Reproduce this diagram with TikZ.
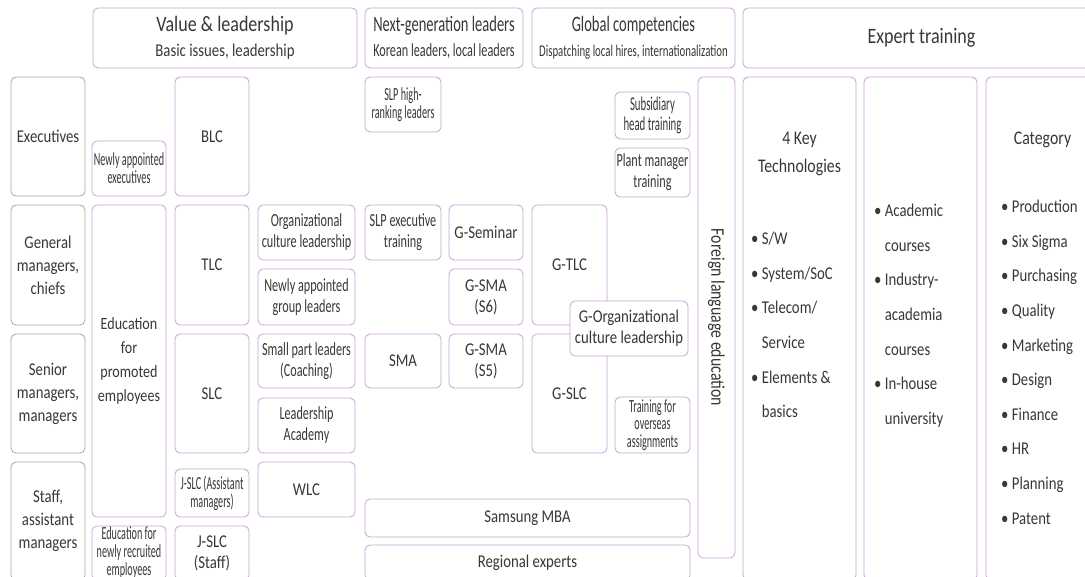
\documentclass[tikz,border=0pt]{standalone}
\usepackage{fontspec}
\setmainfont{Carlito}[FakeStretch=0.82]
\newfontfamily\narrowfam{Carlito}[FakeStretch=0.66]
\newfontfamily\tightfam{Carlito}[FakeStretch=0.55]
\definecolor{hrdpurple}{RGB}{200,162,212}
\definecolor{hrdgray}{RGB}{165,165,165}
\definecolor{hrdtext}{RGB}{55,55,55}
\newcommand\hrbul{\textbullet\ }
\newcommand\hrind{\phantom{\textbullet\ }}
\tikzset{
  grp/.style={draw=hrdpurple, line width=0.8pt, rounded corners=5pt, inner sep=0pt, align=center, text=hrdtext},
  rowlbl/.style={grp, draw=hrdgray, font=\fontsize{18}{23}\selectfont},
  prog/.style={grp, font=\fontsize{18}{21}\selectfont},
  progn/.style={grp, font=\narrowfam\fontsize{18.5}{21}\selectfont},
  progt/.style={grp, font=\tightfam\fontsize{18.5}{18}\selectfont},
  head/.style={grp, font=\fontsize{18}{25}\selectfont},
  listtxt/.style={align=left, inner sep=0pt, text=hrdtext, font=\fontsize{18}{34.6}\selectfont}
}

\begin{document}
\begin{tikzpicture}[x=1pt, y=-1pt]
  \useasboundingbox (0,0) rectangle (1085,577);
  \clip (0,0) rectangle (1085,577);

  % Header boxes
  \node[head, minimum width=264, minimum height=60] (valhd) at (225,38) {{\fontsize{22}{25}\selectfont Value \& leadership}\\Basic issues, leadership};
  \node[head, font=\narrowfam\fontsize{18.5}{25}\selectfont, minimum width=158, minimum height=60] (nexthd) at (444,38) {{\fontsize{22}{25}\selectfont Next-generation leaders}\\Korean leaders, local leaders};
  \node[head, font=\narrowfam\fontsize{16.4}{25}\selectfont, minimum width=203, minimum height=60] (globhd) at (633.5,38) {{\fontsize{22}{25}\selectfont Global competencies}\\Dispatching local hires, internationalization};
  \node[head, font=\fontsize{22}{25}\selectfont, minimum width=357, minimum height=60] (exphd) at (921.5,38) {Expert training};

  % Job levels
  \node[rowlbl, minimum width=74, minimum height=119] (exec) at (48,136.5) {Executives};
  \node[rowlbl, minimum width=74, minimum height=120] (gm) at (48,265) {General\\managers,\\chiefs};
  \node[rowlbl, minimum width=74, minimum height=119] (sm) at (48,393.5) {Senior\\managers,\\managers};
  \node[rowlbl, minimum width=74, minimum height=118] (staff) at (48,521) {Staff,\\assistant\\managers};

  % Value & leadership
  \node[progt, minimum width=74, minimum height=55] (newexec) at (129,168.5) {Newly appointed\\executives};
  \node[prog, font=\fontsize{17.2}{24}\selectfont, minimum width=74, minimum height=312] (edupro) at (129,361) {Education\\for\\promoted\\employees};
  \node[progt, minimum width=74, minimum height=54] (edunew) at (129,553) {Education for\\newly recruited\\employees};
  \node[prog, minimum width=74, minimum height=119] (blc) at (212,136.5) {BLC};
  \node[prog, minimum width=74, minimum height=120] (tlc) at (212,265) {TLC};
  \node[prog, minimum width=74, minimum height=119] (slc) at (212,393.5) {SLC};
  \node[progt, minimum width=74, minimum height=48] (jslca) at (212,493) {J-SLC (Assistant\\managers)};
  \node[prog, minimum width=74, minimum height=54] (jslcs) at (212,553) {J-SLC\\(Staff)};
  \node[progn, minimum width=97, minimum height=55] (orgcul) at (306.5,232.5) {Organizational\\culture leadership};
  \node[progn, minimum width=97, minimum height=56] (newgrp) at (306.5,297) {Newly appointed\\group leaders};
  \node[progn, minimum width=97, minimum height=54] (smallpart) at (306.5,361) {Small part leaders\\(Coaching)};
  \node[progn, minimum width=97, minimum height=55] (academy) at (306.5,425.5) {Leadership\\Academy};
  \node[prog, minimum width=97, minimum height=55] (wlc) at (306.5,489.5) {WLC};

  % Next-generation leaders
  \node[progt, minimum width=76, minimum height=55] (slphigh) at (403,104.5) {SLP high-\\ranking leaders};
  \node[progn, minimum width=76, minimum height=55] (slpexec) at (403,232.5) {SLP executive\\training};
  \node[prog, minimum width=76, minimum height=54] (sma) at (403,361) {SMA};
  \node[prog, minimum width=74, minimum height=55] (gsem) at (486,232.5) {G-Seminar};
  \node[prog, minimum width=74, minimum height=56] (gsma6) at (486,297) {G-SMA\\(S6)};
  \node[prog, minimum width=74, minimum height=54] (gsma5) at (486,361) {G-SMA\\(S5)};

  % Global competencies
  \node[prog, minimum width=75, minimum height=120] (gtlc) at (569.5,265) {G-TLC};
  \node[prog, minimum width=75, minimum height=119] (gslc) at (569.5,393.5) {G-SLC};
  \node[prog, fill=white, minimum width=118, minimum height=55] (gorg) at (629,328.5) {G-Organizational\\culture leadership};
  \node[progt, font=\tightfam\fontsize{19.6}{20}\selectfont, minimum width=75, minimum height=47] (subsid) at (652.5,115.5) {Subsidiary\\head training};
  \node[progn, minimum width=75, minimum height=49] (plant) at (652.5,172.5) {Plant manager\\training};
  \node[progt, font=\tightfam\fontsize{18.5}{17.5}\selectfont, minimum width=75, minimum height=56] (overseas) at (652.5,425) {Training for\\overseas\\assignments};
  \node[prog, minimum width=325, minimum height=38] (mba) at (527.5,518) {Samsung MBA};
  \node[prog, minimum width=325, minimum height=35] (regional) at (527.5,562.5) {Regional experts};
  \node[prog, font=\fontsize{19.3}{21}\selectfont, rotate=-90, minimum width=481, minimum height=37] (foreign) at (716.5,317.5) {Foreign language education};

  % Expert training
  \node[grp, minimum width=113, minimum height=503] (keytech) at (799.5,328.5) {};
  \node[grp, minimum width=113, minimum height=503] (courses) at (920.5,328.5) {};
  \node[grp, minimum width=113, minimum height=503] (category) at (1042.5,328.5) {};
  \node[align=center, text=hrdtext, font=\fontsize{19.3}{28}\selectfont] (keyhd) at (799.5,154) {4 Key\\Technologies};
  \node[align=center, text=hrdtext, font=\fontsize{19.3}{28}\selectfont] (cathd) at (1042.5,140) {Category};
  \node[listtxt, anchor=north west] (keylist) at (751,232) {\hrbul S/W\\\hrbul System/SoC\\\hrbul Telecom/\\\hrind Service\\\hrbul Elements \&\\\hrind basics};
  \node[listtxt, anchor=north west] (courselist) at (874,204) {\hrbul Academic\\\hrind courses\\\hrbul Industry-\\\hrind academia\\\hrind courses\\\hrbul In-house\\\hrind university};
  \node[listtxt, anchor=north west] (catlist) at (1001,200) {\hrbul Production\\\hrbul Six Sigma\\\hrbul Purchasing\\\hrbul Quality\\\hrbul Marketing\\\hrbul Design\\\hrbul Finance\\\hrbul HR\\\hrbul Planning\\\hrbul Patent};
\end{tikzpicture}
\end{document}
